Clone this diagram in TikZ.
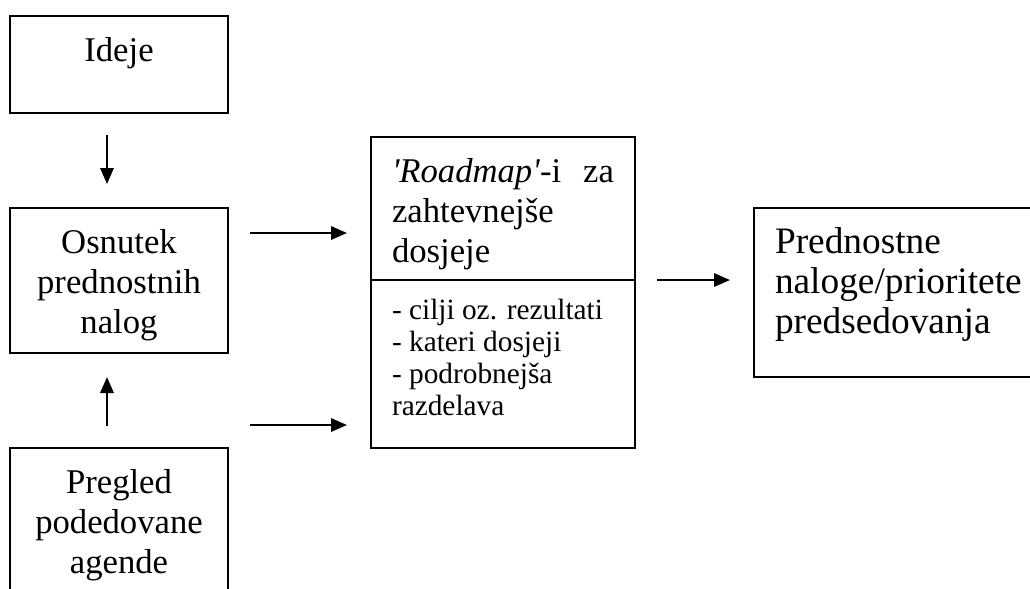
\documentclass[tikz,border=0pt]{standalone}
\usepackage{fontspec}
\setmainfont{Liberation Serif}
\usetikzlibrary{arrows.meta,calc}

\newcommand{\boxtxt}[3]{\parbox[t][#1][t]{#2}{\vspace*{6.5pt}#3}}
\newcommand{\squote}{\XeTeXglyph\XeTeXcharglyph"27\relax}

\tikzset{
  box/.style={draw, line width=1pt, inner sep=0pt, outer sep=0pt, anchor=north west,
    font=\fontsize{13}{15}\selectfont},
  lbox/.style={box, inner xsep=7.875pt},
  arr/.style={-{Triangle[length=6pt,width=5pt]}, line width=0.8pt,
    shorten <=8.4pt, shorten >=9pt},
}

\begin{document}
\begin{tikzpicture}[x=0.375pt, y=-0.375pt]
    \useasboundingbox (0,0) rectangle (1030,588);

    % left column
    \node[box] (ideje) at (10,16)
        {\boxtxt{36.375pt}{81.75pt}{\centering\strut Ideje}};
    \node[box] (osnutek) at (10,208)
        {\boxtxt{54.375pt}{81.75pt}{\centering\strut Osnutek\\prednostnih\\nalog}};
    \node[box] (pregled) at (10,448)
        {\boxtxt{56.25pt}{81.75pt}{\centering\strut Pregled\\podedovane\\agende}};

    \draw[arr] ([xshift=-4.5pt]ideje.south) -- ([xshift=-4.5pt]osnutek.north);
    \draw[arr] ([xshift=-4.5pt]pregled.north) -- ([xshift=-4.5pt]osnutek.south);

    % roadmap box
    \node[lbox] (roadtop) at (371,137)
        {\boxtxt{53.625pt}{83.25pt}{\strut\textit{\squote Roadmap\squote}-i\hfill za\\zahtevnejše\\dosjeje}};
    \node[lbox, font=\fontsize{11}{12}\selectfont] (roadbot) at (371,280)
        {\boxtxt{63pt}{83.25pt}{\strut - cilji oz. rezultati\\- kateri dosjeji\\- podrobnejša\\razdelava}};

    \coordinate (hi) at ($(osnutek.north east)+(0,25)$);
    \coordinate (lo) at ($(pregled.north east)+(0,-23)$);
    \draw[arr] (hi) -- (hi -| roadtop.west);
    \draw[arr] (lo) -- (lo -| roadbot.west);

    % result
    \node[lbox, font=\fontsize{14}{15}\selectfont] (prednost) at (754,208)
        {\boxtxt{63.375pt}{96.75pt}{\strut Prednostne\\naloge/prioritete\\predsedovanja}};

    \draw[arr] (roadtop.south east) -- (roadtop.south east -| prednost.west);
\end{tikzpicture}
\end{document}
